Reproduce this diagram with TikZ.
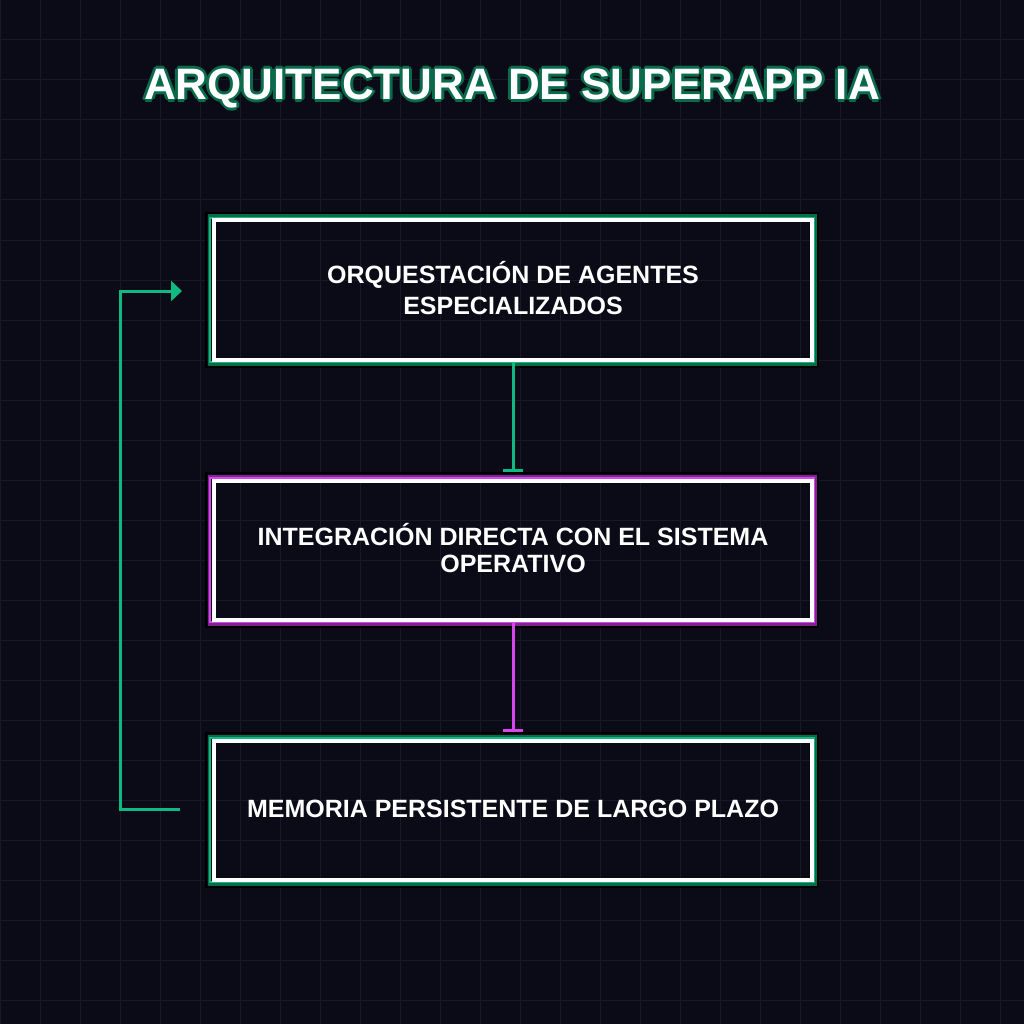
\documentclass[tikz,border=0pt]{standalone}
\usepackage{fontspec}
\setmainfont{Liberation Sans}
\usetikzlibrary{arrows.meta}
\definecolor{bg}{HTML}{0B0B18}
\definecolor{grid}{HTML}{181828}
\definecolor{gr}{HTML}{10B981}
\definecolor{grd}{HTML}{0A6B4A}
\definecolor{mg}{HTML}{D946EF}
\definecolor{mgd}{HTML}{7E2590}
\tikzset{
  box/.style={draw=white,line width=4pt,minimum width=598pt,minimum height=139pt,align=center,text=white,font=\bfseries\fontsize{25pt}{35pt}\selectfont},
  frame/.style={draw=black,line width=2pt},
  conn/.style={line width=3pt},
}
\begin{document}
\begin{tikzpicture}[x=1pt,y=-1pt]
\fill[bg] (0,0) rectangle (1024,1024);
\useasboundingbox (0,0) rectangle (1024,1024);
\foreach \i in {0,40,...,1000}{\draw[grid,line width=1pt] (\i,0)--(\i,1024); \draw[grid,line width=1pt] (0,\i)--(1024,\i);}
% title
\foreach \dx/\dy in {-2/0,2/0,0/-2,0/2,-1.5/-1.5,1.5/1.5,-1.5/1.5,1.5/-1.5,-3/0,3/0,0/3,0/-3}{
 \node[text=grd,font=\bfseries\fontsize{44pt}{44pt}\selectfont] at (512+\dx,88+\dy) {ARQUITECTURA DE SUPERAPP IA};}
\node[text=white,font=\bfseries\fontsize{44pt}{44pt}\selectfont] (title) at (512,88) {ARQUITECTURA DE SUPERAPP IA};
% boxes
\foreach \y/\c/\d in {290/gr/grd,550/mg/mgd,810/gr/grd}{
 \draw[frame] (206,\y-77) rectangle (818,\y+77);
 \draw[\d,line width=3pt] (209,\y-74) rectangle (815,\y+74);
 \draw[\c,line width=2pt] (210,\y-72) rectangle (814,\y+72);
}
\node[box] (a) at (513,290) {\raisebox{4pt}{\shortstack{ORQUESTACIÓN DE AGENTES\\[6pt]ESPECIALIZADOS}}};
\node[box] (b) at (513,550) {\raisebox{4pt}{\shortstack{INTEGRACIÓN DIRECTA CON EL SISTEMA\\[6pt]OPERATIVO}}};
\node[box] (c) at (513,810) {\raisebox{2pt}{MEMORIA PERSISTENTE DE LARGO PLAZO}};
\draw[gr,conn,-{Bar[width=20pt,line width=3pt]}] (a.south) -- ([yshift=7pt]b.north);
\draw[mg,conn,-{Bar[width=20pt,line width=3pt]}] (b.south) -- ([yshift=7pt]c.north);
\coordinate (s) at (180,809);
\coordinate (e) at (182,291);
\draw[gr,conn,-{Triangle[length=11pt,width=20pt]}] (s) -- (120,809) -- (120,291) -- (e);
\end{tikzpicture}
\end{document}
